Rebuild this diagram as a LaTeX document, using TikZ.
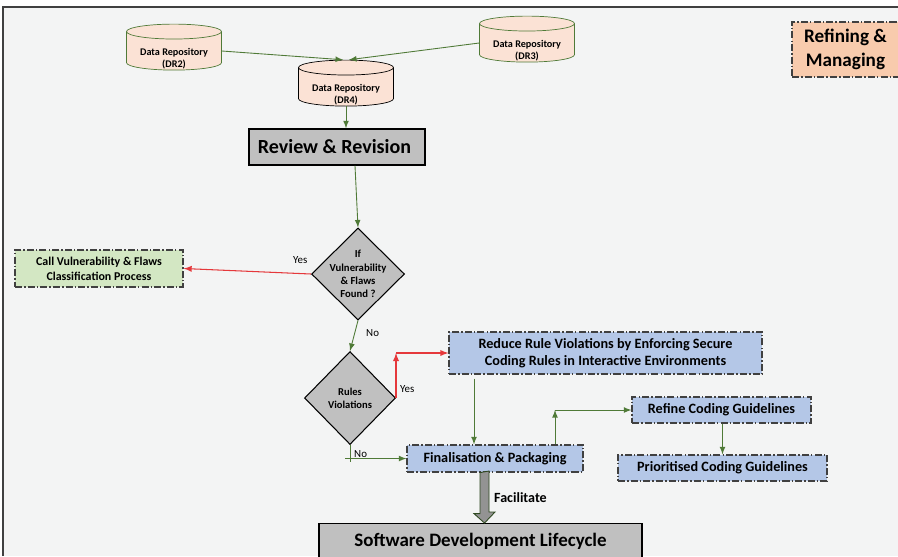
\documentclass[tikz,border=0pt]{standalone}
\usepackage{fontspec}
\setmainfont{Carlito}
\usetikzlibrary{shapes.geometric}

\definecolor{backgr}{HTML}{F3F4F4}
\definecolor{repofill}{HTML}{FBE2D5}
\definecolor{flowgreen}{HTML}{4F7A37}
\definecolor{yesred}{HTML}{E5383B}
\definecolor{boxgray}{HTML}{C0C0C0}
\definecolor{boxblue}{HTML}{B4C7E7}
\definecolor{boxgreen}{HTML}{D3E7C3}
\definecolor{boxpeach}{HTML}{F8CBAD}
\definecolor{framegray}{HTML}{404040}

\begin{document}
\begin{tikzpicture}[> = latex, font = \bfseries,
	repotext/.style = {align = center, font = \fontsize{5.8}{7}\selectfont\bfseries},
	repo/.style = {cylinder, shape border rotate = 90, aspect = 0.22, draw = flowgreen, fill = repofill,
		minimum width = 1.9cm, minimum height = 0.92cm, inner sep = 0pt, repotext},
	plain/.style = {rectangle, draw = black, fill = boxgray, line width = 0.8pt, inner sep = 0pt},
	dotbox/.style = {rectangle, draw = framegray, line width = 0.7pt, inner sep = 0pt, align = center,
		dash pattern = on 4pt off 1.2pt on 0.8pt off 1.2pt, font = \fontsize{8.1}{9.8}\selectfont\bfseries},
	decision/.style = {diamond, draw = black, fill = boxgray, line width = 0.6pt, inner sep = 0pt, aspect = 1},
	flow/.style = {->, draw = flowgreen, line width = 0.5pt},
	yes/.style = {->, draw = yesred, line width = 0.6pt},
	tag/.style = {font = \fontsize{6.2}{7}\selectfont}]

	\begin{scope}[x = 0.02cm, y = -0.02cm]

		\useasboundingbox (0, 0) rectangle (898, 556);
		\fill [backgr] (3, 7) rectangle (898, 556);
		\draw [framegray, line width = 0.8pt] (3, 556) -- (3, 7) -- (898, 7);

		\node [repo] (dr2) at (174, 51) {\phantom{Data Repository}\\\phantom{(DR2)}};
		\node [repo] (dr3) at (527, 43) {\phantom{Data Repository}\\\phantom{(DR3)}};
		\node [repo, draw = black] (dr4) at (346, 87) {\phantom{Data Repository}\\\phantom{(DR4)}};
		\node [repotext] (dr2txt) at ([yshift = -0.16cm]dr2) {Data Repository\\(DR2)};
		\node [repotext] (dr3txt) at ([yshift = -0.16cm]dr3) {Data Repository\\(DR3)};
		\node [repotext] (dr4txt) at ([yshift = -0.16cm]dr4) {Data Repository\\(DR4)};

		\node [plain, minimum width = 3.52cm, minimum height = 0.72cm, font = \fontsize{11.4}{13}\selectfont\bfseries] (review) at (337, 147) {\hspace*{-0.1cm}Review \& Revision};

		\node [decision, minimum width = 1.86cm, minimum height = 1.84cm] (found) at (358, 274) {};
		\node [align = center, font = \fontsize{6.1}{7.6}\selectfont\bfseries] (foundtxt) at (found) {If\\Vulnerability\\\& Flaws\\Found ?};

		\node [dotbox, fill = boxgreen, minimum width = 3.36cm, minimum height = 0.74cm, font = \fontsize{6.8}{8.6}\selectfont\bfseries] (call) at (99, 268.5) {Call Vulnerability \& Flaws\\Classification Process};

		\node [decision, minimum width = 1.82cm, minimum height = 1.86cm] (rules) at (350, 398) {};
		\node [align = center, font = \fontsize{6}{7.4}\selectfont\bfseries] (rulestxt) at (rules) {Rules\\Violations};

		\node [dotbox, fill = boxblue, minimum width = 6.26cm, minimum height = 0.84cm] (reduce) at (605.5, 353) {Reduce Rule Violations by Enforcing Secure\\Coding Rules in Interactive Environments};
		\node [dotbox, fill = boxblue, minimum width = 3.52cm, minimum height = 0.54cm] (final) at (495, 458.5) {Finalisation \& Packaging};
		\node [dotbox, fill = boxblue, minimum width = 3.58cm, minimum height = 0.52cm] (refine) at (721.5, 410) {Refine Coding Guidelines};
		\node [dotbox, fill = boxblue, minimum width = 4.18cm, minimum height = 0.52cm] (prior) at (722.5, 468) {Prioritised Coding Guidelines};

		\node [plain, minimum width = 6.46cm, minimum height = 0.8cm, font = \fontsize{10.8}{12}\selectfont\bfseries, anchor = north] (sdl) at (480.5, 523) {\raisebox{4.5pt}{Software Development Lifecycle}};

		\node [dotbox, fill = boxpeach, minimum width = 2.14cm, minimum height = 1.1cm, font = \fontsize{10.9}{13.4}\selectfont\bfseries] (manage) at (845.5, 49.5) {Refining \&\\Managing};

		\coordinate (dropx) at (474, 0);
		\coordinate (upx) at (555, 0);
		\coordinate (facx) at (484.5, 0);

		\draw [flow] (dr2.east) -- ([xshift = -0.06cm]dr4.north);
		\draw [flow] (dr3.west) -- ([xshift = 0.06cm]dr4.north);
		\draw [flow] (dr4.south) -- (review.north -| dr4.south);
		\draw [flow] ([xshift = 0.36cm]review.south) -- (found.north);

		\draw [yes] (found.west) -- (call.east);
		\draw [flow] (found.south) -- (rules.north);

		\draw [yes] (rules.east) -- (rules.east |- reduce.west);
		\draw [yes] (rules.east |- reduce.west) -- (reduce.west);

		\draw [flow] ([yshift = -0.08cm]reduce.south -| dropx) -- (final.north -| dropx);

		\draw [flowgreen, line width = 0.5pt] (rules.south) -- ++(0, 17);
		\draw [flow] ([xshift = -0.1cm]rules.south |- final.west) -- (final.west);

		\draw [flow] (final.north -| upx) -- (upx |- refine.west);
		\draw [flow] (upx |- refine.west) -- (refine.west);
		\draw [flow] (refine.south -| prior.north) -- (prior.north);

		\filldraw [fill = gray!85, draw = flowgreen!60!black, line width = 0.5pt] (final.south -| facx) ++(-4.5, 0) -- ++(0, 41) -- ++(-6, 0) -- (facx |- sdl.north) -- ++(10.5, -11) -- ++(-6, 0) -- ++(0, -41) -- cycle;

		\node [tag, above right] (yes1) at (287, 270) {Yes};
		\node [tag, right] (no1) at (360, 333) {No};
		\node [tag, right] (yes2) at (394, 389) {Yes};
		\node [tag, right] (no2) at (348, 454) {No};
		\node [font = \fontsize{8}{9}\selectfont\bfseries, right] (fac) at (488, 498) {Facilitate};

	\end{scope}

\end{tikzpicture}
\end{document}
